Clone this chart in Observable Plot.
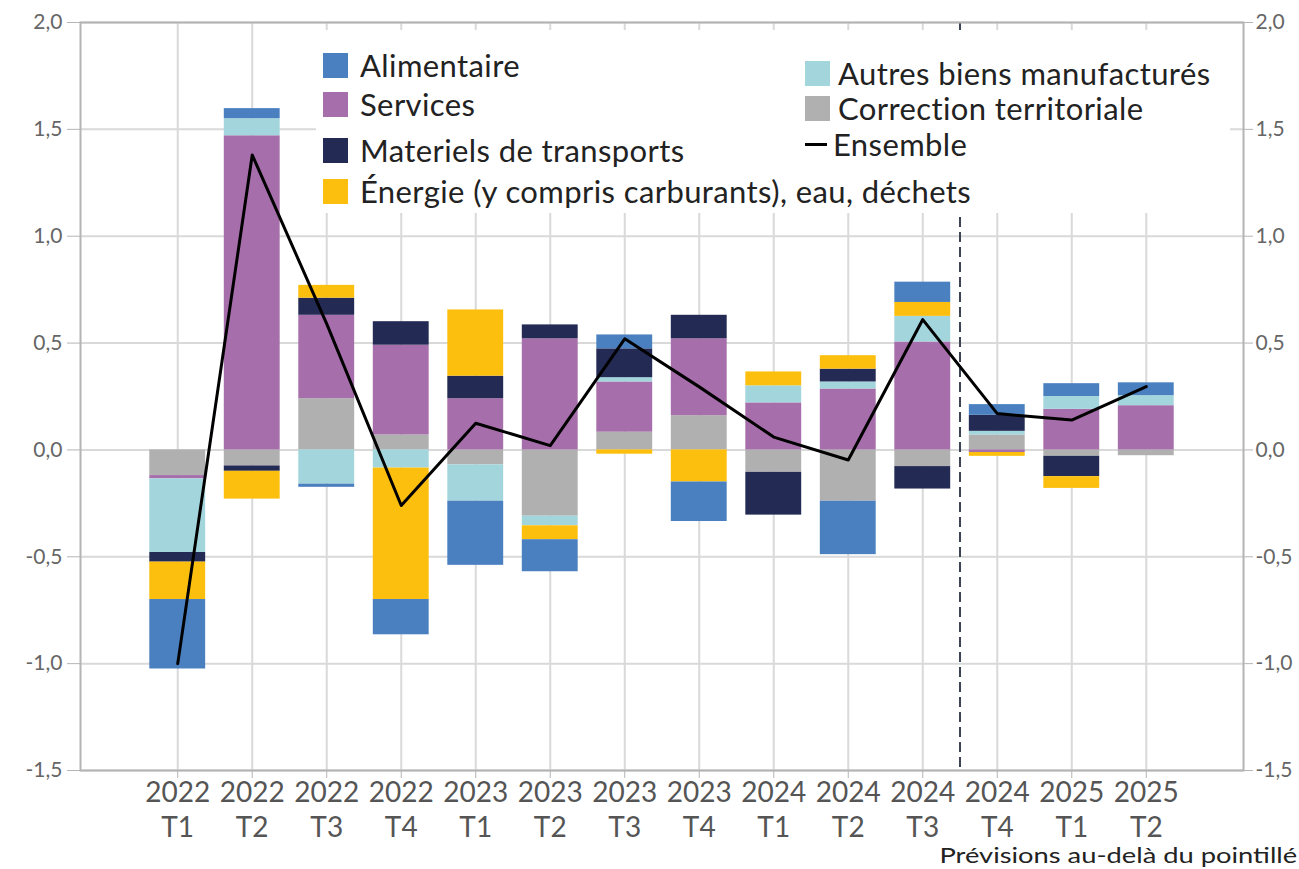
<!DOCTYPE html>
<html><head><meta charset="utf-8">
<script src="https://cdn.jsdelivr.net/npm/d3@7"></script>
<script src="https://cdn.jsdelivr.net/npm/@observablehq/plot@0.6"></script>
<style>
body{margin:0;background:#fff;font-family:Lato,sans-serif;}
#wrap{position:relative;width:1299px;height:869px;overflow:hidden;}
#legend{position:absolute;left:316px;top:30px;width:914px;height:183px;background:#fff;}
.item{position:absolute;display:flex;align-items:center;height:36px;font-size:31px;letter-spacing:0.4px;color:#222;white-space:nowrap;}
.sw{width:25px;height:25px;flex:none;}
.ln{width:22px;height:3px;background:#000;flex:none;}
#caption{position:absolute;right:2px;top:843px;font-size:21px;line-height:24px;color:#222;white-space:nowrap;transform:scaleX(1.3);transform-origin:right center;}
</style></head>
<body>
<div id="wrap"><div id="chart"></div><div id="legend"></div><div id="caption">Prévisions au-delà du pointillé</div></div>
<script>
const quarters = ["2022 T1","2022 T2","2022 T3","2022 T4","2023 T1","2023 T2","2023 T3","2023 T4","2024 T1","2024 T2","2024 T3","2024 T4","2025 T1","2025 T2"];
const forecastStart = "2024 T4";

// stack order from zero outward
const seriesNames = ["Correction territoriale","Services","Autres biens manufacturés","Materiels de transports","Énergie (y compris carburants), eau, déchets","Alimentaire"];
const correction = [-0.12,-0.075,0.24,0.07,-0.07,-0.31,0.083,0.16,-0.105,-0.24,-0.078,0.07,-0.03,-0.027];
const services   = [-0.015,1.47,0.39,0.42,0.24,0.52,0.235,0.36,0.22,0.285,0.505,-0.012,0.19,0.207];
const autres     = [-0.345,0.08,-0.16,-0.085,-0.17,-0.045,0.02,0,0.08,0.033,0.12,0.017,0.06,0.047];
const transports = [-0.045,-0.025,0.08,0.11,0.105,0.065,0.135,0.11,-0.20,0.06,-0.105,0.075,-0.095,0];
const energie    = [-0.175,-0.13,0.06,-0.615,0.31,-0.065,-0.02,-0.15,0.065,0.063,0.065,-0.018,-0.055,0];
const alimentaire= [-0.325,0.047,-0.015,-0.165,-0.30,-0.15,0.065,-0.185,0,-0.25,0.095,0.05,0.06,0.06];
const ensemble   = [-1.0,1.38,0.59,-0.26,0.125,0.02,0.52,0.295,0.06,-0.047,0.61,0.17,0.14,0.296];
const yTicks = [-1.5,-1.0,-0.5,0,0.5,1.0,1.5,2.0];

const seriesValues = [correction,services,autres,transports,energie,alimentaire];
const colors = ["#b0b0b0","#a66eaa","#a3d5dc","#232a53","#fdbf0e","#4a80c0"];

const rows = [];
seriesNames.forEach((s,i)=>seriesValues[i].forEach((v,j)=>rows.push({q:quarters[j], s, v})));
const lineRows = quarters.map((q,j)=>({q, v:ensemble[j]}));

const W=1299,H=840,mL=80,mR=56,mT=22,mB=70,padIn=0.25,padOut=0.93;
const step=(W-mL-mR)/(quarters.length-padIn+2*padOut);
const fmt = d => d.toFixed(1).replace(".", ",");

const chart = Plot.plot({
  width:W,height:H,marginLeft:mL,marginRight:mR,marginTop:mT,marginBottom:mB,
  style:{fontFamily:"Lato, sans-serif",background:"#fff",overflow:"visible"},
  x:{domain:quarters,paddingInner:padIn,paddingOuter:padOut,round:false,label:null},
  y:{domain:[-1.5,2],label:null},
  color:{domain:seriesNames,range:colors},
  marks:[
    Plot.gridY(yTicks,{stroke:"#d9d9d9",strokeOpacity:1,strokeWidth:2}),
    Plot.gridX({stroke:"#d9d9d9",strokeOpacity:1,strokeWidth:2}),
    Plot.barY(rows,Plot.stackY({x:"q",y:"v",fill:"s",order:seriesNames})),
    Plot.ruleX([forecastStart],{x:d=>d,dx:-step/2,stroke:"#3c4352",strokeWidth:2,strokeDasharray:"10,5"}),
    Plot.line(lineRows,{x:"q",y:"v",stroke:"#000",strokeWidth:3}),
    Plot.frame({stroke:"#b4b4b4",strokeWidth:2}),
    Plot.axisY(yTicks,{anchor:"left",tickFormat:fmt,tickSize:13,tickPadding:5,fontSize:21,stroke:"#b4b4b4",fill:"#666",label:null}),
    Plot.axisY(yTicks,{anchor:"right",tickFormat:fmt,tickSize:9,tickPadding:3,fontSize:21,stroke:"#b4b4b4",fill:"#666",label:null}),
    Plot.axisX({tickFormat:q=>q.replace(" ","\n"),tickSize:8,tickPadding:-1,fontSize:28,lineHeight:1.25,stroke:"#b4b4b4",fill:"#555",label:null})
  ]
});
document.getElementById("chart").appendChild(chart);

// legend (HTML, overlaid inside plot area)
const legendItems = [
  {label:"Alimentaire", color:colors[5], left:7, cy:35, gap:12},
  {label:"Services", color:colors[1], left:7, cy:74, gap:12},
  {label:"Materiels de transports", color:colors[3], left:7, cy:120, gap:12},
  {label:"Énergie (y compris carburants), eau, déchets", color:colors[4], left:7, cy:161, gap:12},
  {label:"Autres biens manufacturés", color:colors[2], left:489, cy:43, gap:8},
  {label:"Correction territoriale", color:colors[0], left:489, cy:78, gap:8},
  {label:"Ensemble", line:true, left:489, cy:114, gap:6}
];
const leg = document.getElementById("legend");
for (const it of legendItems) {
  const d = document.createElement("div");
  d.className = "item";
  d.style.left = it.left + "px";
  d.style.top = (it.cy - 18) + "px";
  const s = document.createElement("span");
  s.className = it.line ? "ln" : "sw";
  s.style.marginRight = it.gap + "px";
  if (!it.line) s.style.background = it.color;
  d.appendChild(s);
  d.appendChild(document.createTextNode(it.label));
  leg.appendChild(d);
}
</script>
</body></html>
